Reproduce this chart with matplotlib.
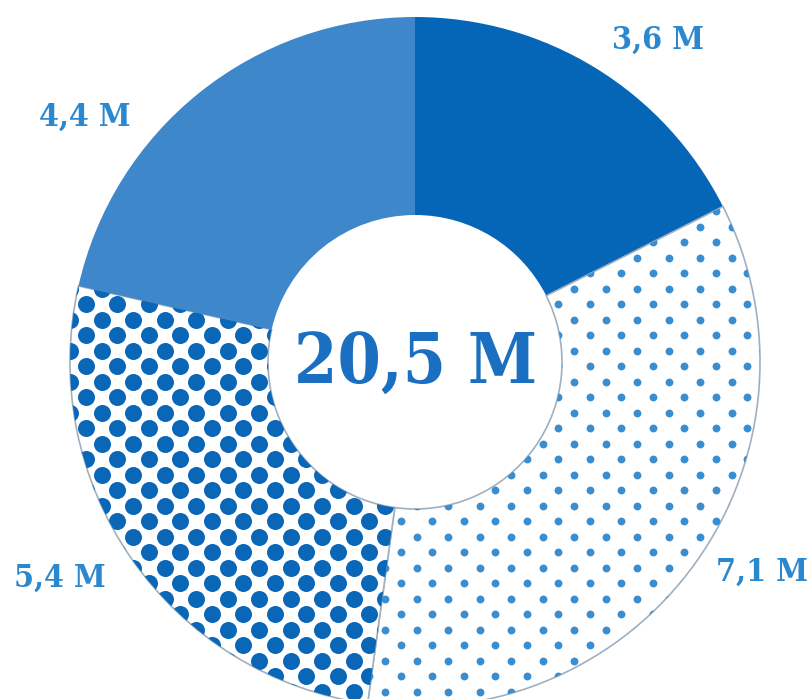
import numpy as np
import matplotlib
matplotlib.use("Agg")
import matplotlib.pyplot as plt

# werte im uhrzeigersinn ab 12 uhr
werte = [3.6, 7.1, 5.4, 4.4]
beschriftung = ["3,6 M", "7,1 M", "5,4 M", "4,4 M"]
summe_text = "20,5 M"
farben = ["#0566b8", "white", "white", "#3f87cb"]
punkt_farbe = [None, "#3a8ed0", "#0a67b8", None]
punkt_groesse = [0, 32, 150, 0]
text_pos = [(658, 659), (762, 127), (60, 121), (85, 582)]

W, H = 810, 699
fig = plt.figure(figsize=(W / 100, H / 100), dpi=100)
ax = fig.add_axes([0, 0, 1, 1])

cx, cy, R, r_in = 415, 337, 345, 147
wedges, _ = ax.pie(werte, radius=R, center=(cx, cy), startangle=90,
                   counterclock=False, colors=farben,
                   wedgeprops=dict(width=R - r_in, linewidth=0))

# punktraster (versetzt) in den weissen segmenten
gx, gy = 31.5, 15.5
xs = np.arange(cx - R - gx, cx + R + gx, gx)
ys = np.arange(cy - R - gy, cy + R + gy, gy)
px, py = [], []
for i, y in enumerate(ys):
    off = gx / 2 if i % 2 else 0
    px.extend(xs + off)
    py.extend([y] * len(xs))
px, py = np.array(px), np.array(py)

for w, fc, s in zip(wedges, punkt_farbe, punkt_groesse):
    if fc is None:
        continue
    w.set_edgecolor("#9fb0c0")
    w.set_linewidth(1.2)
    sc = ax.scatter(px, py, s=s, color=fc, linewidths=0, zorder=3)
    sc.set_clip_path(w)

font = dict(family="DejaVu Serif", fontweight="bold", fontstretch="condensed")
for txt, (x, y) in zip(beschriftung, text_pos):
    ax.text(x, y, txt, ha="center", va="center", fontsize=23,
            color="#2b87ce", **font)

ax.text(cx + 1, cy - 2, summe_text, ha="center", va="center", fontsize=50,
        color="#1a6fc0", **font)

ax.set_xlim(0, W)
ax.set_ylim(0, H)
ax.set_aspect("auto")
ax.axis("off")
fig.savefig("out.png", dpi=100, facecolor="white")
